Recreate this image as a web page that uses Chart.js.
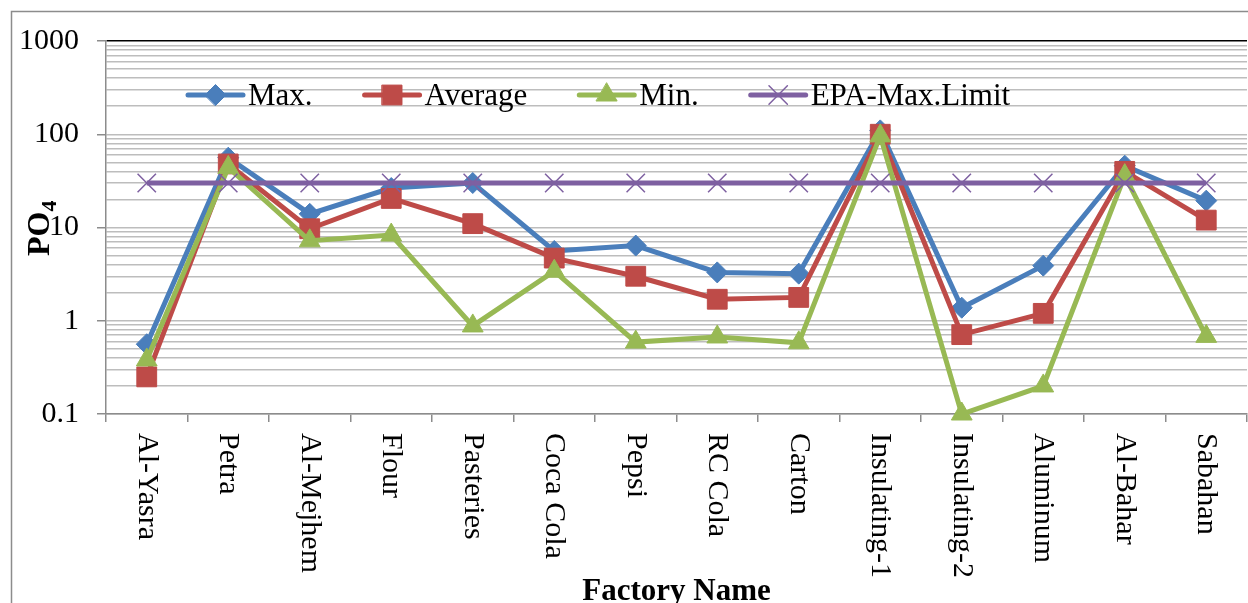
<!DOCTYPE html>
<html>
<head>
<meta charset="utf-8">
<script src="https://cdn.jsdelivr.net/npm/chart.js@4.4.1/dist/chart.umd.min.js"></script>
<style>
  html, body { margin: 0; padding: 0; background: #fff; overflow: hidden; }
  #wrap { width: 1262px; height: 603px; }
</style>
</head>
<body>
<div id="wrap"><canvas id="chart" width="1262" height="603"></canvas></div>
<script>
const factories = ['Al-Yasra', 'Petra', 'Al-Mejhem', 'Flour', 'Pasteries', 'Coca Cola', 'Pepsi',
  'RC Cola', 'Carton', 'Insulating-1', 'Insulating-2', 'Aluminum', 'Al-Bahar', 'Sabahan'];

const maxVals = [0.56, 56, 14, 26.5, 30, 5.6, 6.4, 3.3, 3.2, 110, 1.38, 3.9, 46, 19.4];
const avgVals = [0.25, 48, 9.7, 20.5, 11, 4.7, 3.0, 1.7, 1.78, 100, 0.71, 1.2, 40, 12];
const minVals = [0.38, 44, 7.2, 8.3, 0.88, 3.4, 0.59, 0.67, 0.58, 96, 0.1, 0.2, 36, 0.68];
const epaVals = [30, 30, 30, 30, 30, 30, 30, 30, 30, 30, 30, 30, 30, 30];

const decades = [0.1, 1, 10, 100, 1000];
const decadeLabels = ['0.1', '1', '10', '100', '1000'];

const serif = '"Liberation Serif", "Times New Roman", serif';
const GRID = '#bdbdbd';
const AXIS = '#8c8c8c';

// every gridline value: the decades plus 2..9 times each decade
const gridValues = [];
decades.forEach((d, i) => {
  gridValues.push(d);
  if (i < decades.length - 1) {
    for (let m = 2; m <= 9; m++) gridValues.push(Number((m * d).toPrecision(3)));
  }
});

const series = [
  { label: 'Max.', data: maxVals, color: '#4a7ebb', style: 'rectRot', radius: 10.5, order: 4 },
  { label: 'Average', data: avgVals, color: '#be4b48', style: 'rect', radius: 14, order: 3 },
  { label: 'Min.', data: minVals, color: '#98b954', style: 'triangle', radius: 12, order: 2 },
  { label: 'EPA-Max.Limit', data: epaVals, color: '#7e60a1', style: 'crossRot', radius: 13, order: 1 },
];

const isDecade = (v) => decades.some(d => Math.abs(d - v) < 1e-9);

const overlay = {
  id: 'overlay',
  beforeDraw(chart) {
    const { ctx } = chart;
    ctx.save();
    ctx.strokeStyle = AXIS;
    ctx.lineWidth = 1.5;
    ctx.beginPath();
    ctx.moveTo(11.5, 700);
    ctx.lineTo(11.5, 11.5);
    ctx.lineTo(1400, 11.5);
    ctx.stroke();
    ctx.restore();
  },
  afterDraw(chart) {
    const { ctx, scales: { x }, chartArea } = chart;
    ctx.save();
    ctx.fillStyle = '#000';

    // category labels, turned to read top to bottom
    ctx.font = '30px ' + serif;
    ctx.textAlign = 'left';
    ctx.textBaseline = 'middle';
    factories.forEach((name, i) => {
      ctx.save();
      ctx.translate(x.getPixelForValue(i), x.top + 19);
      ctx.rotate(Math.PI / 2);
      ctx.fillText(name, 0, 0);
      ctx.restore();
    });

    // x title
    ctx.font = 'bold 31px ' + serif;
    ctx.textAlign = 'center';
    ctx.textBaseline = 'alphabetic';
    ctx.fillText('Factory Name', (chartArea.left + chartArea.right) / 2, 600);

    // y title PO4 with subscript
    ctx.save();
    ctx.translate(49, 256);
    ctx.rotate(-Math.PI / 2);
    ctx.textAlign = 'left';
    ctx.font = 'bold 32px ' + serif;
    ctx.fillText('PO', 0, 0);
    const w = ctx.measureText('PO').width;
    ctx.font = 'bold 22px ' + serif;
    ctx.fillText('4', w, 7);
    ctx.restore();

    // legend
    let lx = 188;
    const ly = 95;
    ctx.font = '31px ' + serif;
    ctx.textAlign = 'left';
    ctx.textBaseline = 'middle';
    series.forEach(s => {
      ctx.strokeStyle = s.color;
      ctx.lineWidth = 5;
      ctx.lineCap = 'round';
      ctx.beginPath();
      ctx.moveTo(lx, ly);
      ctx.lineTo(lx + 55, ly);
      ctx.stroke();
      ctx.fillStyle = s.color;
      ctx.lineWidth = s.style === 'crossRot' ? 1.5 : 1;
      Chart.helpers.drawPoint(ctx, { pointStyle: s.style, radius: s.radius, borderWidth: ctx.lineWidth, rotation: 0 }, lx + 27.5, ly);
      ctx.fillStyle = '#000';
      ctx.fillText(s.label, lx + 60, ly + 2);
      lx += 60 + ctx.measureText(s.label).width + 52;
    });
    ctx.restore();
  }
};

new Chart(document.getElementById('chart'), {
  type: 'line',
  data: {
    labels: factories,
    datasets: series.map(s => ({
      label: s.label,
      data: s.data,
      borderColor: s.color,
      backgroundColor: s.color,
      borderWidth: 5,
      pointStyle: s.style,
      pointRadius: s.radius,
      pointBackgroundColor: s.color,
      pointBorderColor: s.color,
      pointBorderWidth: s.style === 'crossRot' ? 1.5 : 1,
      tension: 0,
      fill: false,
      clip: false,
      order: s.order,
    })),
  },
  options: {
    responsive: false,
    animation: false,
    devicePixelRatio: 1,
    layout: { padding: { left: 0, top: 41, right: 12, bottom: 0 } },
    plugins: { legend: { display: false }, tooltip: { enabled: false } },
    scales: {
      x: {
        type: 'category',
        offset: true,
        grid: { display: true, drawOnChartArea: false, offset: true, tickLength: 8, color: AXIS, lineWidth: 1.5 },
        border: { color: AXIS, width: 1.5 },
        ticks: { display: false },
        afterFit: (scale) => { scale.height = 189; },
      },
      y: {
        type: 'logarithmic',
        min: 0.1,
        max: 1000,
        afterBuildTicks: (scale) => { scale.ticks = gridValues.map(v => ({ value: v, major: isDecade(v) })); },
        afterFit: (scale) => { scale.width = 106; },
        grid: {
          color: (c) => (c.tick && c.tick.value === 1000 ? '#000' : GRID),
          lineWidth: 1.5,
          tickLength: 9,
          tickColor: (c) => (c.tick && isDecade(c.tick.value) ? AXIS : 'rgba(0,0,0,0)'),
        },
        border: { color: AXIS, width: 1.5 },
        ticks: {
          autoSkip: false,
          padding: 18,
          color: '#000',
          font: { family: serif, size: 30 },
          callback: (v) => {
            const i = decades.findIndex(d => Math.abs(d - v) < 1e-9);
            return i >= 0 ? decadeLabels[i] : '';
          },
        },
      },
    },
  },
  plugins: [overlay],
});
</script>
</body>
</html>
